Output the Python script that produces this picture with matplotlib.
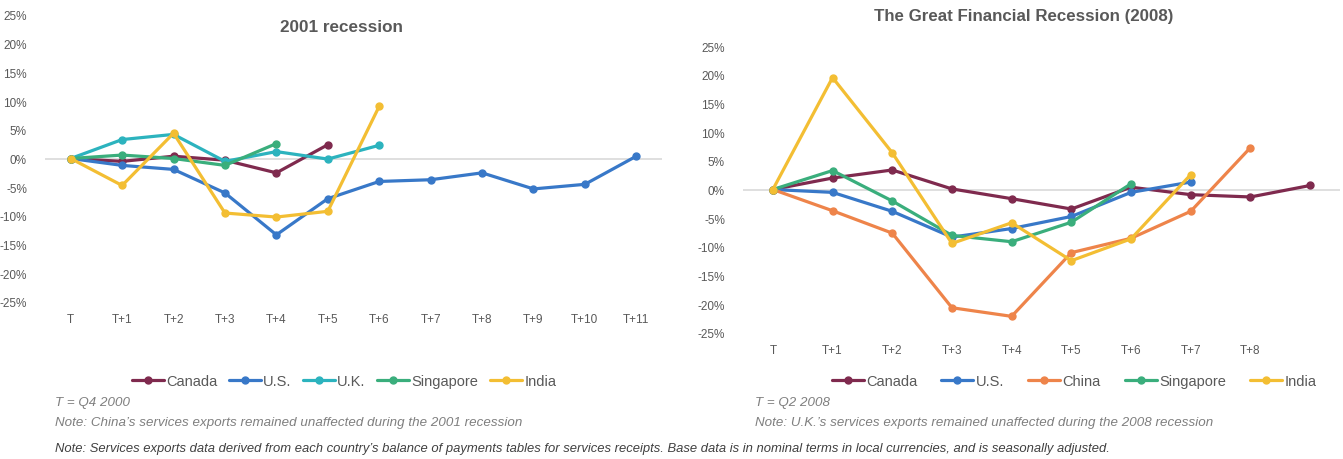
import matplotlib.pyplot as plt
import numpy as np

plt.rcParams['font.family'] = ['Liberation Sans', 'DejaVu Sans']

# 2001 recession
labels_2001 = ["T", "T+1", "T+2", "T+3", "T+4", "T+5", "T+6", "T+7", "T+8", "T+9", "T+10", "T+11"]
canada_2001 = [0, -0.5, 0.4, -0.3, -2.5, 2.4]
us_2001 = [0, -1.2, -1.9, -6.0, -13.3, -7.0, -4.0, -3.7, -2.5, -5.3, -4.5, 0.4]
uk_2001 = [0, 3.3, 4.2, -0.5, 1.2, -0.1, 2.3]
singapore_2001 = [0, 0.6, 0.0, -1.2, 2.6]
india_2001 = [0, -4.7, 4.4, -9.5, -10.2, -9.2, 9.1]

# 2008 recession
labels_2008 = ["T", "T+1", "T+2", "T+3", "T+4", "T+5", "T+6", "T+7", "T+8", ""]
canada_2008 = [0, 2.0, 3.4, 0.1, -1.6, -3.4, 0.4, -0.9, -1.3, 0.7]
us_2008 = [0, -0.5, -3.8, -8.3, -6.8, -4.7, -0.5, 1.3]
china_2008 = [0, -3.7, -7.6, -20.6, -22.1, -11.0, -8.5, -3.8, 7.3]
singapore_2008 = [0, 3.3, -2.0, -8.0, -9.1, -5.7, 1.0]
india_2008 = [0, 19.5, 6.4, -9.4, -5.8, -12.4, -8.6, 2.6]

colors = {
    "Canada": "#7F2A4E",
    "U.S.": "#3878C8",
    "U.K.": "#2CB3BE",
    "China": "#EE844A",
    "Singapore": "#3AAE7C",
    "India": "#F3BE33",
}
grey = "#595959"

fig = plt.figure(figsize=(13.43, 4.6), dpi=100)


def draw(ax, labels, series):
    for name, vals in series:
        ax.plot(range(len(vals)), vals, color=colors[name], lw=2.3,
                marker="o", markersize=5, label=name, solid_capstyle="round")
    ax.axhline(0, color="#D9D9D9", lw=1.2, zorder=0)
    ax.set_xlim(-0.5, len(labels) - 0.5)
    ax.set_ylim(-25, 25)
    ax.set_xticks(range(len(labels)))
    ax.set_xticklabels(labels)
    ax.set_yticks(np.arange(-25, 26, 5))
    ax.set_yticklabels([f"{v}%" for v in range(-25, 26, 5)])
    for s in ax.spines.values():
        s.set_visible(False)
    ax.tick_params(length=0, colors=grey, labelsize=8.5)
    ax.tick_params(axis="y", pad=13)
    ax.tick_params(axis="x", pad=8)


ax1 = fig.add_axes([45 / 1343, 1 - 303 / 460, 617 / 1343, 287 / 460])
draw(ax1, labels_2001, [("Canada", canada_2001), ("U.S.", us_2001), ("U.K.", uk_2001),
                        ("Singapore", singapore_2001), ("India", india_2001)])
ax1.legend(loc="center", bbox_to_anchor=(344 / 1343, 1 - 382 / 460),
           bbox_transform=fig.transFigure, ncol=5, frameon=False, fontsize=10.5,
           handlelength=2.2, handletextpad=0.15, columnspacing=0.8, labelcolor=grey)

ax2 = fig.add_axes([743 / 1343, 1 - 334 / 460, 597 / 1343, 287 / 460])
draw(ax2, labels_2008, [("Canada", canada_2008), ("U.S.", us_2008), ("China", china_2008),
                        ("Singapore", singapore_2008), ("India", india_2008)])
ax2.legend(loc="center", bbox_to_anchor=(1074 / 1343, 1 - 382 / 460),
           bbox_transform=fig.transFigure, ncol=5, frameon=False, fontsize=10.5,
           handlelength=2.2, handletextpad=0.15, columnspacing=1.65, labelcolor=grey)

fig.text(342 / 1343, 1 - 27 / 460, "2001 recession", ha="center", va="center",
         fontsize=12.3, fontweight="bold", color=grey)
fig.text(1024 / 1343, 1 - 17 / 460, "The Great Financial Recession (2008)", ha="center",
         va="center", fontsize=12.2, fontweight="bold", color=grey)

note_kw = dict(fontsize=9.6, style="italic", color="#7F7F7F", va="center", ha="left")
fig.text(55 / 1343, 1 - 403 / 460, "T = Q4 2000", **note_kw)
fig.text(55 / 1343, 1 - 423 / 460,
         "Note: China\u2019s services exports remained unaffected during the 2001 recession", **note_kw)
fig.text(755 / 1343, 1 - 403 / 460, "T = Q2 2008", **note_kw)
fig.text(755 / 1343, 1 - 423 / 460,
         "Note: U.K.\u2019s services exports remained unaffected during the 2008 recession", **note_kw)
fig.text(55 / 1343, 1 - 449 / 460,
         "Note: Services exports data derived from each country\u2019s balance of payments tables for "
         "services receipts. Base data is in nominal terms in local currencies, and is seasonally adjusted.",
         **{**note_kw, "color": "#404040", "fontsize": 9.4})

fig.savefig("out.png", dpi=100)
